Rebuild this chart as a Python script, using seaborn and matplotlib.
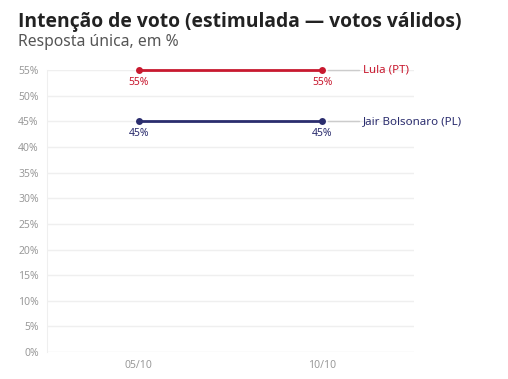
import pandas as pd
import matplotlib.pyplot as plt
import seaborn as sns

# dados
datas = ['05/10', '10/10']
lula = [55, 55]
bolsonaro = [45, 45]
candidatos = ['Lula (PT)', 'Jair Bolsonaro (PL)']
cores = ['#c8192f', '#2b2d6e']

df = pd.DataFrame({
    'data': datas * 2,
    'valor': lula + bolsonaro,
    'candidato': [candidatos[0]] * 2 + [candidatos[1]] * 2,
})

sns.set_style('white')
plt.rcParams['font.family'] = ['Noto Sans', 'DejaVu Sans']

fig = plt.figure(figsize=(5.08, 3.79), dpi=100)
ax = fig.add_axes([0.0925, 0.071, 0.723, 0.744])

sns.lineplot(data=df, x='data', y='valor', hue='candidato', palette=cores,
             marker='o', markersize=5, markeredgewidth=0, linewidth=2,
             legend=False, ax=ax)
for ln in ax.lines:
    ln.set_clip_on(False)

ax.set_ylim(0, 55)
ax.set_xlim(-0.5, 1.5)
ax.set_yticks(range(0, 56, 5))
ax.set_yticklabels([f'{v}%' for v in range(0, 56, 5)])
ax.set_xlabel('')
ax.set_ylabel('')
ax.grid(axis='y', color='#efefef', linewidth=1)
ax.tick_params(axis='both', labelsize=7.5, colors='#9a9a9a', length=0, pad=6)
for s in ['top', 'right', 'bottom']:
    ax.spines[s].set_visible(False)
ax.spines['left'].set_color('#efefef')

# rótulos de valor e nomes
for vals, nome, cor in zip([lula, bolsonaro], candidatos, cores):
    for i, v in enumerate(vals):
        ax.annotate(f'{v}%', (i, v), xytext=(0, -5), textcoords='offset points',
                    ha='center', va='top', fontsize=7.5, color=cor)
    ax.plot([1.03, 1.2], [vals[-1], vals[-1]], color='#cccccc', linewidth=1,
            clip_on=False)
    ax.text(1.22, vals[-1], nome, color=cor, fontsize=8.3, va='center',
            ha='left', clip_on=False)

fig.text(0.035, 0.942, 'Intenção de voto (estimulada — votos válidos)',
         fontsize=13.9, fontweight='bold', color='#222222', va='center',
         family=['Open Sans', 'DejaVu Sans'])
fig.text(0.035, 0.888, 'Resposta única, em %', fontsize=11.3,
         color='#555555', va='center')

fig.savefig('out.png', dpi=100)
